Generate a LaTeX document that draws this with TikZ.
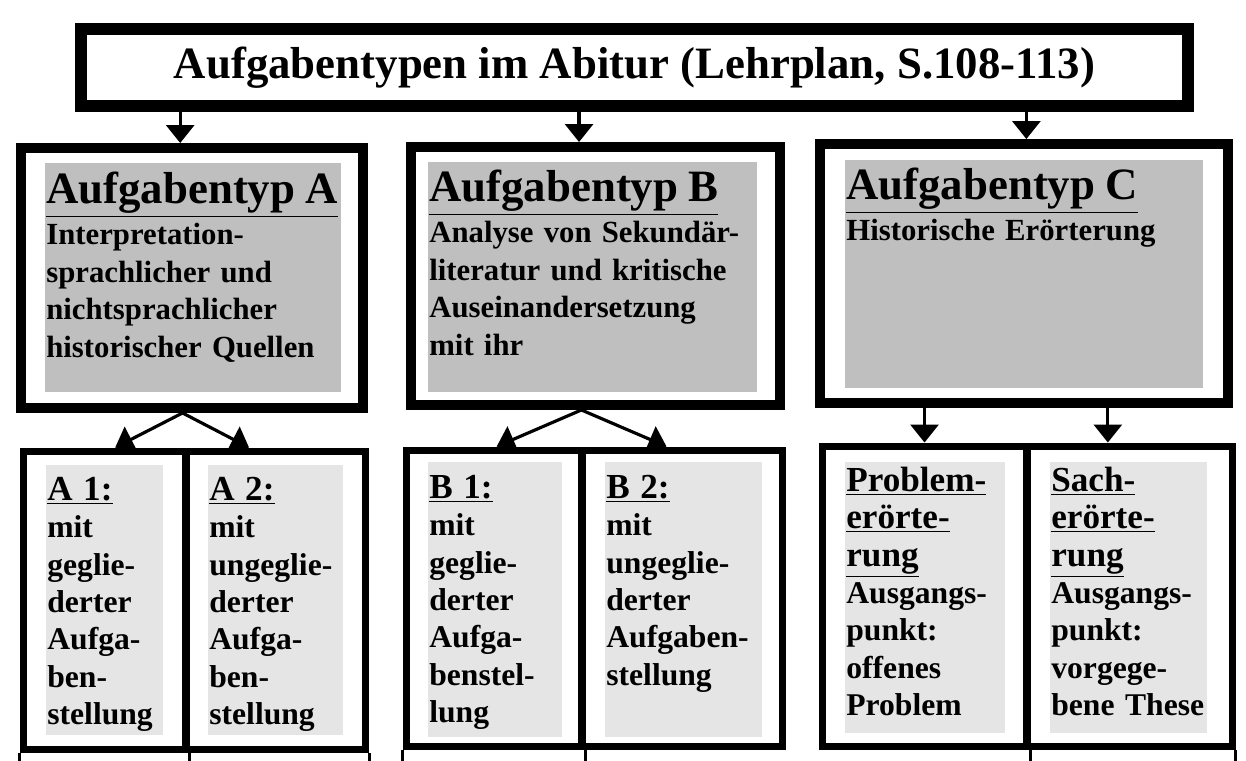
\documentclass[tikz,border=0pt]{standalone}
\usepackage{fontspec}
\setmainfont{Liberation Serif}
\usetikzlibrary{positioning,arrows.meta}
\newcommand*{\kopf}[1]{{\fontsize{25.5}{21.3}\selectfont\rule{0pt}{18pt}\underline{#1}}}
\newcommand*{\feldkopf}[1]{{\fontsize{20}{21.3}\selectfont\rule{0pt}{15pt}\underline{#1}}}

\begin{document}
\begin{tikzpicture}[x=0.02cm,y=-0.02cm,
  titelbox/.style={rectangle,draw=black,line width=0.25cm,minimum width=22.14cm,minimum height=1.54cm,inner sep=0pt,font=\bfseries\fontsize{25.5}{30}\selectfont},
  typbox/.style={rectangle,draw=black,line width=0.2cm,minimum height=5.2cm,inner sep=0pt},
  feldbox/.style={rectangle,draw=black,line width=0.14cm,inner sep=0pt},
  typgrau/.style={rectangle,fill=gray!50,anchor=north west,inner sep=0pt},
  feldgrau/.style={rectangle,fill=gray!20,anchor=north west,inner sep=0pt},
  typtext/.style={anchor=north west,inner sep=0pt,align=left,text width=8cm,font=\bfseries\fontsize{17.5}{21.3}\selectfont},
  feldtext/.style={anchor=north west,inner sep=0pt,align=left,text width=4cm,font=\bfseries\fontsize{18}{21.3}\selectfont},
  pfeil/.style={line width=1.8pt,-{Triangle[length=0.36cm,width=0.56cm]}}]
	\useasboundingbox (0,0) rectangle (1246,760);
	\node[titelbox] (titel) at (634.5,67.5) {Aufgabentypen im Abitur (Lehrplan, S.108-113)};
	% obere Kaesten
	\node[typbox,minimum width=6.84cm] (typA) at (192,278) {};
	\node[typbox,minimum width=7.38cm,minimum height=5.16cm] (typB) at (595.5,276) {};
	\node[typbox,minimum width=8.16cm,minimum height=5.18cm] (typC) at (1024,273.5) {};
	\node[typgrau,minimum width=5.92cm,minimum height=4.58cm] (grauA) at (45,163) {};
	\node[typgrau,minimum width=6.58cm,minimum height=4.6cm] (grauB) at (428,162) {};
	\node[typgrau,minimum width=7.16cm,minimum height=4.56cm] (grauC) at (845,160) {};
	\node[typtext] (textA) at (46,172) {\kopf{Aufgabentyp A}\\[2pt] Interpretation-\\ sprachlicher und\\ nichtsprachlicher\\ historischer Quellen};
	\node[typtext] (textB) at (429,170) {\kopf{Aufgabentyp B}\\[2pt] Analyse von Sekundär-\\ literatur und kritische\\ Auseinandersetzung\\ mit ihr};
	\node[typtext] (textC) at (846,168) {\kopf{Aufgabentyp C}\\[2pt] Historische Erörterung};
	% untere Felder
	\node[feldbox,minimum width=3.26cm,minimum height=5.98cm] (aEins) at (104.5,600.5) {};
	\node[feldbox,minimum width=3.6cm,minimum height=5.98cm] (aZwei) at (276,600.5) {};
	\node[feldbox,minimum width=3.52cm,minimum height=5.94cm] (bEins) at (494,598.5) {};
	\node[feldbox,minimum width=4.02cm,minimum height=5.94cm] (bZwei) at (682.5,598.5) {};
	\node[feldbox,minimum width=4.1cm,minimum height=6.02cm] (cEins) at (924.5,596.5) {};
	\node[feldbox,minimum width=4.1cm,minimum height=6.02cm] (cZwei) at (1129.5,596.5) {};
	\node[feldgrau,minimum width=2.34cm,minimum height=5.4cm] (grauAEins) at (46,465) {};
	\node[feldgrau,minimum width=2.7cm,minimum height=5.4cm] (grauAZwei) at (208,465) {};
	\node[feldgrau,minimum width=2.68cm,minimum height=5.5cm] (grauBEins) at (428,462) {};
	\node[feldgrau,minimum width=3.14cm,minimum height=5.5cm] (grauBZwei) at (605,462) {};
	\node[feldgrau,minimum width=3.2cm,minimum height=5.42cm] (grauCEins) at (845,462) {};
	\node[feldgrau,minimum width=3.14cm,minimum height=5.42cm] (grauCZwei) at (1050,462) {};
	\node[feldtext] (textAEins) at (47,473.5) {\feldkopf{A 1:}\\ mit\\ geglie-\\ derter\\ Aufga-\\ ben-\\ stellung};
	\node[feldtext] (textAZwei) at (209,473.5) {\feldkopf{A 2:}\\ mit\\ ungeglie-\\ derter\\ Aufga-\\ ben-\\ stellung};
	\node[feldtext] (textBEins) at (429,471.5) {\feldkopf{B 1:}\\ mit\\ geglie-\\ derter\\ Aufga-\\ benstel-\\ lung};
	\node[feldtext] (textBZwei) at (606,471.5) {\feldkopf{B 2:}\\ mit\\ ungeglie-\\ derter\\ Aufgaben-\\ stellung};
	\node[feldtext] (textCEins) at (846,464.5) {\feldkopf{Problem-}\\ \feldkopf{erörte-}\\ \feldkopf{rung}\\ Ausgangs-\\ punkt:\\ offenes\\ Problem};
	\node[feldtext] (textCZwei) at (1051,464.5) {\feldkopf{Sach-}\\ \feldkopf{erörte-}\\ \feldkopf{rung}\\ Ausgangs-\\ punkt:\\ vorgege-\\ bene These};
	% Pfeile
	\draw[pfeil] (typA.95 |- titel.south) -- (typA.95);
	\draw[pfeil] (typB.97 |- titel.south) -- (typB.97);
	\draw[pfeil] (typC.89 |- titel.south) -- (typC.89);
	\draw[pfeil] (typA.266) -- (aEins.86);
	\draw[pfeil] (typA.266) -- (aZwei.100);
	\draw[pfeil] (typB.264) -- (bEins.89);
	\draw[pfeil] (typB.264) -- (bZwei.96);
	\draw[pfeil] (cEins.north |- typC.south) -- (cEins.north);
	\draw[pfeil] (cZwei.98 |- typC.south) -- (cZwei.98);
	\foreach \s in {aEins.south west,aEins.south east,aZwei.south east,bEins.south west,bEins.south east,cEins.south east,cZwei.south east}
	    \draw[line width=1.6pt] (\s) -- ++(0,15);
\end{tikzpicture}
\end{document}
